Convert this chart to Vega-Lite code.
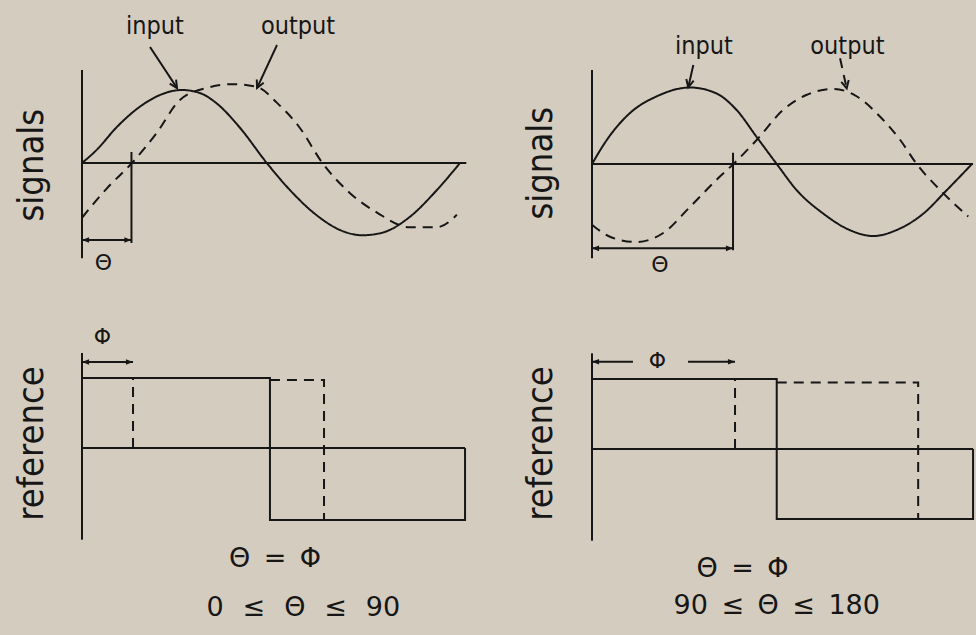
{
  "$schema": "https://vega.github.io/schema/vega-lite/v6.json",
  "background": "#d4ccbf",
  "padding": 0,
  "config": {"view": {"stroke": null}, "concat": {"spacing": 0}},
  "columns": 2,
  "spacing": 0,
  "datasets": {
    "curves": [
      {"panel": "sig1", "series": "input", "path": "sig1-in", "i": 0, "phase": 0, "value": 0},
      {"panel": "sig1", "series": "input", "path": "sig1-in", "i": 1, "phase": 14, "value": 0.18},
      {"panel": "sig1", "series": "input", "path": "sig1-in", "i": 2, "phase": 33, "value": 0.49},
      {"panel": "sig1", "series": "input", "path": "sig1-in", "i": 3, "phase": 55, "value": 0.77},
      {"panel": "sig1", "series": "input", "path": "sig1-in", "i": 4, "phase": 74, "value": 0.93},
      {"panel": "sig1", "series": "input", "path": "sig1-in", "i": 5, "phase": 95, "value": 1.0},
      {"panel": "sig1", "series": "input", "path": "sig1-in", "i": 6, "phase": 112, "value": 0.96},
      {"panel": "sig1", "series": "input", "path": "sig1-in", "i": 7, "phase": 128, "value": 0.82},
      {"panel": "sig1", "series": "input", "path": "sig1-in", "i": 8, "phase": 150, "value": 0.49},
      {"panel": "sig1", "series": "input", "path": "sig1-in", "i": 9, "phase": 176, "value": 0},
      {"panel": "sig1", "series": "input", "path": "sig1-in", "i": 10, "phase": 198, "value": -0.37},
      {"panel": "sig1", "series": "input", "path": "sig1-in", "i": 11, "phase": 223, "value": -0.71},
      {"panel": "sig1", "series": "input", "path": "sig1-in", "i": 12, "phase": 246, "value": -0.92},
      {"panel": "sig1", "series": "input", "path": "sig1-in", "i": 13, "phase": 267, "value": -0.99},
      {"panel": "sig1", "series": "input", "path": "sig1-in", "i": 14, "phase": 287, "value": -0.95},
      {"panel": "sig1", "series": "input", "path": "sig1-in", "i": 15, "phase": 312, "value": -0.74},
      {"panel": "sig1", "series": "input", "path": "sig1-in", "i": 16, "phase": 338, "value": -0.37},
      {"panel": "sig1", "series": "input", "path": "sig1-in", "i": 17, "phase": 360, "value": 0},

      {"panel": "sig1", "series": "output", "path": "sig1-out", "i": 0, "phase": 0, "value": -0.75},
      {"panel": "sig1", "series": "output", "path": "sig1-out", "i": 1, "phase": 23.5, "value": -0.35},
      {"panel": "sig1", "series": "output", "path": "sig1-out", "i": 2, "phase": 47.6, "value": 0},
      {"panel": "sig1", "series": "output", "path": "sig1-out", "i": 3, "phase": 71, "value": 0.41},
      {"panel": "sig1", "series": "output", "path": "sig1-out", "i": 4, "phase": 93, "value": 0.86},
      {"panel": "sig1", "series": "output", "path": "sig1-out", "i": 5, "phase": 119, "value": 1.03},
      {"panel": "sig1", "series": "output", "path": "sig1-out", "i": 6, "phase": 144, "value": 1.08},
      {"panel": "sig1", "series": "output", "path": "sig1-out", "i": 7, "phase": 167, "value": 1.04},
      {"panel": "sig1", "series": "output", "path": "sig1-out", "i": 8, "phase": 186, "value": 0.82},
      {"panel": "sig1", "series": "output", "path": "sig1-out", "i": 9, "phase": 207, "value": 0.49},
      {"panel": "sig1", "series": "output", "path": "sig1-out", "i": 10, "phase": 229, "value": 0},
      {"panel": "sig1", "series": "output", "path": "sig1-out", "i": 11, "phase": 255, "value": -0.41},
      {"panel": "sig1", "series": "output", "path": "sig1-out", "i": 12, "phase": 281, "value": -0.68},
      {"panel": "sig1", "series": "output", "path": "sig1-out", "i": 13, "phase": 312, "value": -0.88},
      {"panel": "sig1", "series": "output", "path": "sig1-out", "i": 14, "phase": 338, "value": -0.88},
      {"panel": "sig1", "series": "output", "path": "sig1-out", "i": 15, "phase": 357, "value": -0.71},

      {"panel": "sig2", "series": "input", "path": "sig2-in", "i": 0, "phase": 0, "value": 0},
      {"panel": "sig2", "series": "input", "path": "sig2-in", "i": 1, "phase": 14, "value": 0.32},
      {"panel": "sig2", "series": "input", "path": "sig2-in", "i": 2, "phase": 36, "value": 0.68},
      {"panel": "sig2", "series": "input", "path": "sig2-in", "i": 3, "phase": 61, "value": 0.9},
      {"panel": "sig2", "series": "input", "path": "sig2-in", "i": 4, "phase": 93, "value": 1.02},
      {"panel": "sig2", "series": "input", "path": "sig2-in", "i": 5, "phase": 118, "value": 0.94},
      {"panel": "sig2", "series": "input", "path": "sig2-in", "i": 6, "phase": 137, "value": 0.72},
      {"panel": "sig2", "series": "input", "path": "sig2-in", "i": 7, "phase": 156, "value": 0.36},
      {"panel": "sig2", "series": "input", "path": "sig2-in", "i": 8, "phase": 175, "value": 0},
      {"panel": "sig2", "series": "input", "path": "sig2-in", "i": 9, "phase": 194, "value": -0.35},
      {"panel": "sig2", "series": "input", "path": "sig2-in", "i": 10, "phase": 219, "value": -0.66},
      {"panel": "sig2", "series": "input", "path": "sig2-in", "i": 11, "phase": 244, "value": -0.88},
      {"panel": "sig2", "series": "input", "path": "sig2-in", "i": 12, "phase": 266.5, "value": -0.96},
      {"panel": "sig2", "series": "input", "path": "sig2-in", "i": 13, "phase": 288.6, "value": -0.88},
      {"panel": "sig2", "series": "input", "path": "sig2-in", "i": 14, "phase": 314, "value": -0.66},
      {"panel": "sig2", "series": "input", "path": "sig2-in", "i": 15, "phase": 336, "value": -0.35},
      {"panel": "sig2", "series": "input", "path": "sig2-in", "i": 16, "phase": 360, "value": 0},

      {"panel": "sig2", "series": "output", "path": "sig2-out", "i": 0, "phase": 0, "value": -0.81},
      {"panel": "sig2", "series": "output", "path": "sig2-out", "i": 1, "phase": 17, "value": -0.97},
      {"panel": "sig2", "series": "output", "path": "sig2-out", "i": 2, "phase": 42, "value": -1.04},
      {"panel": "sig2", "series": "output", "path": "sig2-out", "i": 3, "phase": 67.5, "value": -0.92},
      {"panel": "sig2", "series": "output", "path": "sig2-out", "i": 4, "phase": 93, "value": -0.57},
      {"panel": "sig2", "series": "output", "path": "sig2-out", "i": 5, "phase": 118, "value": -0.21},
      {"panel": "sig2", "series": "output", "path": "sig2-out", "i": 6, "phase": 134, "value": 0},
      {"panel": "sig2", "series": "output", "path": "sig2-out", "i": 7, "phase": 156, "value": 0.32},
      {"panel": "sig2", "series": "output", "path": "sig2-out", "i": 8, "phase": 181, "value": 0.72},
      {"panel": "sig2", "series": "output", "path": "sig2-out", "i": 9, "phase": 203, "value": 0.92},
      {"panel": "sig2", "series": "output", "path": "sig2-out", "i": 10, "phase": 229, "value": 1.0},
      {"panel": "sig2", "series": "output", "path": "sig2-out", "i": 11, "phase": 251, "value": 0.9},
      {"panel": "sig2", "series": "output", "path": "sig2-out", "i": 12, "phase": 273, "value": 0.63},
      {"panel": "sig2", "series": "output", "path": "sig2-out", "i": 13, "phase": 292, "value": 0.32},
      {"panel": "sig2", "series": "output", "path": "sig2-out", "i": 14, "phase": 307.6, "value": 0},
      {"panel": "sig2", "series": "output", "path": "sig2-out", "i": 15, "phase": 330, "value": -0.35},
      {"panel": "sig2", "series": "output", "path": "sig2-out", "i": 16, "phase": 356.5, "value": -0.7},

      {"panel": "ref1", "series": "reference", "path": "ref1-ref", "i": 0, "phase": 0, "value": 1},
      {"panel": "ref1", "series": "reference", "path": "ref1-ref", "i": 1, "phase": 179, "value": 1},
      {"panel": "ref1", "series": "reference", "path": "ref1-ref", "i": 2, "phase": 179, "value": -1.03},
      {"panel": "ref1", "series": "reference", "path": "ref1-ref", "i": 3, "phase": 364.8, "value": -1.03},
      {"panel": "ref1", "series": "reference", "path": "ref1-ref", "i": 4, "phase": 364.8, "value": 0},
      {"panel": "ref1", "series": "shifted", "path": "ref1-rise", "i": 0, "phase": 48.6, "value": 0},
      {"panel": "ref1", "series": "shifted", "path": "ref1-rise", "i": 1, "phase": 48.6, "value": 1},
      {"panel": "ref1", "series": "shifted", "path": "ref1-fall", "i": 0, "phase": 179, "value": 0.97},
      {"panel": "ref1", "series": "shifted", "path": "ref1-fall", "i": 1, "phase": 230.5, "value": 0.97},
      {"panel": "ref1", "series": "shifted", "path": "ref1-fall", "i": 2, "phase": 230.5, "value": -1.03},

      {"panel": "ref2", "series": "reference", "path": "ref2-ref", "i": 0, "phase": 0, "value": 1},
      {"panel": "ref2", "series": "reference", "path": "ref2-ref", "i": 1, "phase": 175, "value": 1},
      {"panel": "ref2", "series": "reference", "path": "ref2-ref", "i": 2, "phase": 175, "value": -1},
      {"panel": "ref2", "series": "reference", "path": "ref2-ref", "i": 3, "phase": 361, "value": -1},
      {"panel": "ref2", "series": "reference", "path": "ref2-ref", "i": 4, "phase": 361, "value": 0},
      {"panel": "ref2", "series": "shifted", "path": "ref2-rise", "i": 0, "phase": 135.5, "value": 0},
      {"panel": "ref2", "series": "shifted", "path": "ref2-rise", "i": 1, "phase": 135.5, "value": 1},
      {"panel": "ref2", "series": "shifted", "path": "ref2-fall", "i": 0, "phase": 175, "value": 0.95},
      {"panel": "ref2", "series": "shifted", "path": "ref2-fall", "i": 1, "phase": 309, "value": 0.95},
      {"panel": "ref2", "series": "shifted", "path": "ref2-fall", "i": 2, "phase": 309, "value": -1}
    ],
    "rules": [
      {"panel": "sig1", "role": "axis", "series": "guide", "phase": 0, "phase2": 0, "value": 1.274, "value2": -1.305},
      {"panel": "sig1", "role": "baseline", "series": "guide", "phase": 0, "phase2": 366, "value": 0, "value2": 0},
      {"panel": "sig1", "role": "lag", "series": "guide", "phase": 47.1, "phase2": 47.1, "value": 0.15, "value2": -1.096},
      {"panel": "sig1", "role": "dimension", "series": "guide", "phase": 0, "phase2": 47.1, "value": -1.055, "value2": -1.055},
      {"panel": "sig1", "role": "callout", "series": "guide", "phase": 64.8, "phase2": 90.5, "value": 1.589, "value2": 1.027},
      {"panel": "sig1", "role": "callout", "series": "guide", "phase": 185.7, "phase2": 166.7, "value": 1.616, "value2": 1.027},
      {"panel": "sig2", "role": "axis", "series": "guide", "phase": 0, "phase2": 0, "value": 1.253, "value2": -1.257},
      {"panel": "sig2", "role": "baseline", "series": "guide", "phase": 0, "phase2": 361, "value": 0, "value2": 0},
      {"panel": "sig2", "role": "lag", "series": "guide", "phase": 133.6, "phase2": 133.6, "value": 0.15, "value2": -1.15},
      {"panel": "sig2", "role": "dimension", "series": "guide", "phase": 0, "phase2": 133.6, "value": -1.124, "value2": -1.124},
      {"panel": "sig2", "role": "callout", "series": "guide", "phase": 96, "phase2": 91.2, "value": 1.32, "value2": 1.023},
      {"panel": "sig2", "role": "callout", "series": "output", "phase": 235, "phase2": 241.3, "value": 1.409, "value2": 1.009},
      {"panel": "ref1", "role": "axis", "series": "guide", "phase": 0, "phase2": 0, "value": 1.357, "value2": -1.31},
      {"panel": "ref1", "role": "baseline", "series": "guide", "phase": 0, "phase2": 364.8, "value": 0, "value2": 0},
      {"panel": "ref1", "role": "dimension", "series": "guide", "phase": 0, "phase2": 48.6, "value": 1.229, "value2": 1.229},
      {"panel": "ref2", "role": "axis", "series": "guide", "phase": 0, "phase2": 0, "value": 1.367, "value2": -1.31},
      {"panel": "ref2", "role": "baseline", "series": "guide", "phase": 0, "phase2": 361, "value": 0, "value2": 0},
      {"panel": "ref2", "role": "dimension", "series": "guide", "phase": 0, "phase2": 38.8, "value": 1.247, "value2": 1.247},
      {"panel": "ref2", "role": "dimension", "series": "guide", "phase": 91, "phase2": 135.5, "value": 1.247, "value2": 1.247}
    ],
    "heads": [
      {"panel": "sig1", "end": "start", "phase": 0, "value": -1.055},
      {"panel": "sig1", "end": "end", "phase": 47.1, "value": -1.055},
      {"panel": "sig2", "end": "start", "phase": 0, "value": -1.124},
      {"panel": "sig2", "end": "end", "phase": 133.6, "value": -1.124},
      {"panel": "ref1", "end": "start", "phase": 0, "value": 1.229},
      {"panel": "ref1", "end": "end", "phase": 48.6, "value": 1.229},
      {"panel": "ref2", "end": "start", "phase": 0, "value": 1.247},
      {"panel": "ref2", "end": "end", "phase": 135.5, "value": 1.247}
    ],
    "pointers": [
      {"panel": "sig1", "label": "input", "phase": 90.5, "value": 1.027},
      {"panel": "sig1", "label": "output", "phase": 166.7, "value": 1.027},
      {"panel": "sig2", "label": "input", "phase": 91.2, "value": 1.023},
      {"panel": "sig2", "label": "output", "phase": 241.3, "value": 1.009}
    ],
    "labels": [
      {"panel": "sig1", "role": "title", "text": "signals", "phase": -47.6, "value": -0.03},
      {"panel": "sig1", "role": "callout", "text": "input", "phase": 69.5, "value": 1.873},
      {"panel": "sig1", "role": "callout", "text": "output", "phase": 205.7, "value": 1.873},
      {"panel": "sig1", "role": "symbol", "text": "Θ", "phase": 20.5, "value": -1.363},
      {"panel": "sig2", "role": "title", "text": "signals", "phase": -48.3, "value": 0.01},
      {"panel": "sig2", "role": "callout", "text": "input", "phase": 106.1, "value": 1.576},
      {"panel": "sig2", "role": "callout", "text": "output", "phase": 242, "value": 1.576},
      {"panel": "sig2", "role": "symbol", "text": "Θ", "phase": 64.4, "value": -1.347},
      {"panel": "ref1", "role": "title", "text": "reference", "phase": -47.6, "value": 0.064},
      {"panel": "ref1", "role": "symbol", "text": "Φ", "phase": 19.5, "value": 1.579},
      {"panel": "ref1", "role": "condition", "text": "Θ\u2002=\u2002Φ", "phase": 183.8, "value": -1.586},
      {"panel": "ref1", "role": "condition", "text": "0\u2002\u2009≤\u2002\u2009Θ\u2002\u2009≤\u2002\u200990", "phase": 210.8, "value": -2.279},
      {"panel": "ref2", "role": "title", "text": "reference", "phase": -48.3, "value": 0.079},
      {"panel": "ref2", "role": "symbol", "text": "Φ", "phase": 62, "value": 1.257},
      {"panel": "ref2", "role": "condition", "text": "Θ\u2002=\u2002Φ", "phase": 142.6, "value": -1.714},
      {"panel": "ref2", "role": "condition", "text": "90\u2002≤\u2002Θ\u2002≤\u2002180", "phase": 175, "value": -2.239}
    ]
  },
  "concat": [
    {
      "width": 488,
      "height": 300,
      "encoding": {
        "x": {"field": "phase", "type": "quantitative", "scale": {"domain": [-78.095, 386.667], "nice": false, "zero": false}, "axis": null},
        "y": {"field": "value", "type": "quantitative", "scale": {"domain": [-1.8767, 2.2329], "nice": false, "zero": false}, "axis": null}
      },
      "layer": [
        {
          "data": {"name": "rules"},
          "transform": [{"filter": "datum.panel === 'sig1'"}],
          "mark": {"type": "rule", "strokeWidth": 2, "color": "#161616"},
          "encoding": {
            "x2": {"field": "phase2"},
            "y2": {"field": "value2"},
            "strokeDash": {"field": "series", "type": "nominal", "scale": {"domain": ["input", "reference", "guide", "output", "shifted"], "range": [[1, 0], [1, 0], [1, 0], [10, 7], [10, 7]]}, "legend": null}
          }
        },
        {
          "data": {"name": "curves"},
          "transform": [{"filter": "datum.panel === 'sig1'"}],
          "mark": {"type": "line", "interpolate": "monotone", "strokeWidth": 2, "color": "#161616"},
          "encoding": {
            "detail": {"field": "path", "type": "nominal"},
            "order": {"field": "i", "type": "quantitative"},
            "strokeDash": {"field": "series", "type": "nominal", "scale": {"domain": ["input", "reference", "guide", "output", "shifted"], "range": [[1, 0], [1, 0], [1, 0], [10, 7], [10, 7]]}, "legend": null}
          }
        },
        {
          "data": {"name": "heads"},
          "transform": [{"filter": "datum.panel === 'sig1'"}],
          "mark": {"type": "point", "filled": true, "opacity": 1, "size": 50, "color": "#161616"},
          "encoding": {
            "shape": {"field": "end", "type": "nominal", "scale": {"domain": ["start", "end"], "range": ["M0,0L2,-0.8L2,0.8Z", "M0,0L-2,-0.8L-2,0.8Z"]}, "legend": null}
          }
        },
        {
          "data": {"name": "pointers"},
          "transform": [{"filter": "datum.panel === 'sig1' && datum.label === 'input'"}],
          "mark": {"type": "point", "shape": "M-0.8,-1.6L0,0L0.8,-1.6", "filled": false, "opacity": 1, "size": 90, "strokeWidth": 2, "angle": -33, "color": "#161616"}
        },
        {
          "data": {"name": "pointers"},
          "transform": [{"filter": "datum.panel === 'sig1' && datum.label === 'output'"}],
          "mark": {"type": "point", "shape": "M-0.8,-1.6L0,0L0.8,-1.6", "filled": false, "opacity": 1, "size": 90, "strokeWidth": 2, "angle": 25, "color": "#161616"}
        },
        {
          "data": {"name": "labels"},
          "transform": [{"filter": "datum.panel === 'sig1' && datum.role === 'title'"}],
          "mark": {"type": "text", "font": "DejaVu Sans Condensed, DejaVu Sans", "fontSize": 36, "angle": 270, "align": "center", "baseline": "middle", "color": "#161616"},
          "encoding": {"text": {"field": "text"}}
        },
        {
          "data": {"name": "labels"},
          "transform": [{"filter": "datum.panel === 'sig1' && datum.role === 'callout'"}],
          "mark": {"type": "text", "font": "DejaVu Sans Condensed, DejaVu Sans", "fontSize": 25, "align": "center", "baseline": "middle", "color": "#161616"},
          "encoding": {"text": {"field": "text"}}
        },
        {
          "data": {"name": "labels"},
          "transform": [{"filter": "datum.panel === 'sig1' && datum.role === 'symbol'"}],
          "mark": {"type": "text", "font": "DejaVu Sans", "fontSize": 22, "align": "center", "baseline": "middle", "color": "#161616"},
          "encoding": {"text": {"field": "text"}}
        }
      ]
    },
    {
      "width": 488,
      "height": 300,
      "encoding": {
        "x": {"field": "phase", "type": "quantitative", "scale": {"domain": [-98.526, 363.79], "nice": false, "zero": false}, "axis": null},
        "y": {"field": "value", "type": "quantitative", "scale": {"domain": [-1.8133, 2.1867], "nice": false, "zero": false}, "axis": null}
      },
      "layer": [
        {
          "data": {"name": "rules"},
          "transform": [{"filter": "datum.panel === 'sig2'"}],
          "mark": {"type": "rule", "strokeWidth": 2, "color": "#161616"},
          "encoding": {
            "x2": {"field": "phase2"},
            "y2": {"field": "value2"},
            "strokeDash": {"field": "series", "type": "nominal", "scale": {"domain": ["input", "reference", "guide", "output", "shifted"], "range": [[1, 0], [1, 0], [1, 0], [7, 6], [10, 7]]}, "legend": null}
          }
        },
        {
          "data": {"name": "curves"},
          "transform": [{"filter": "datum.panel === 'sig2'"}],
          "mark": {"type": "line", "interpolate": "monotone", "strokeWidth": 2, "color": "#161616"},
          "encoding": {
            "detail": {"field": "path", "type": "nominal"},
            "order": {"field": "i", "type": "quantitative"},
            "strokeDash": {"field": "series", "type": "nominal", "scale": {"domain": ["input", "reference", "guide", "output", "shifted"], "range": [[1, 0], [1, 0], [1, 0], [10, 7], [10, 7]]}, "legend": null}
          }
        },
        {
          "data": {"name": "heads"},
          "transform": [{"filter": "datum.panel === 'sig2'"}],
          "mark": {"type": "point", "filled": true, "opacity": 1, "size": 50, "color": "#161616"},
          "encoding": {
            "shape": {"field": "end", "type": "nominal", "scale": {"domain": ["start", "end"], "range": ["M0,0L2,-0.8L2,0.8Z", "M0,0L-2,-0.8L-2,0.8Z"]}, "legend": null}
          }
        },
        {
          "data": {"name": "pointers"},
          "transform": [{"filter": "datum.panel === 'sig2' && datum.label === 'input'"}],
          "mark": {"type": "point", "shape": "M-0.8,-1.6L0,0L0.8,-1.6", "filled": false, "opacity": 1, "size": 90, "strokeWidth": 2, "angle": 13, "color": "#161616"}
        },
        {
          "data": {"name": "pointers"},
          "transform": [{"filter": "datum.panel === 'sig2' && datum.label === 'output'"}],
          "mark": {"type": "point", "shape": "M-0.8,-1.6L0,0L0.8,-1.6", "filled": false, "opacity": 1, "size": 90, "strokeWidth": 2, "angle": -13, "color": "#161616"}
        },
        {
          "data": {"name": "labels"},
          "transform": [{"filter": "datum.panel === 'sig2' && datum.role === 'title'"}],
          "mark": {"type": "text", "font": "DejaVu Sans Condensed, DejaVu Sans", "fontSize": 36, "angle": 270, "align": "center", "baseline": "middle", "color": "#161616"},
          "encoding": {"text": {"field": "text"}}
        },
        {
          "data": {"name": "labels"},
          "transform": [{"filter": "datum.panel === 'sig2' && datum.role === 'callout'"}],
          "mark": {"type": "text", "font": "DejaVu Sans Condensed, DejaVu Sans", "fontSize": 25, "align": "center", "baseline": "middle", "color": "#161616"},
          "encoding": {"text": {"field": "text"}}
        },
        {
          "data": {"name": "labels"},
          "transform": [{"filter": "datum.panel === 'sig2' && datum.role === 'symbol'"}],
          "mark": {"type": "text", "font": "DejaVu Sans", "fontSize": 22, "align": "center", "baseline": "middle", "color": "#161616"},
          "encoding": {"text": {"field": "text"}}
        }
      ]
    },
    {
      "width": 488,
      "height": 335,
      "encoding": {
        "x": {"field": "phase", "type": "quantitative", "scale": {"domain": [-78.095, 386.667], "nice": false, "zero": false}, "axis": null},
        "y": {"field": "value", "type": "quantitative", "scale": {"domain": [-2.6714, 2.1143], "nice": false, "zero": false}, "axis": null}
      },
      "layer": [
        {
          "data": {"name": "rules"},
          "transform": [{"filter": "datum.panel === 'ref1'"}],
          "mark": {"type": "rule", "strokeWidth": 2, "color": "#161616"},
          "encoding": {
            "x2": {"field": "phase2"},
            "y2": {"field": "value2"}
          }
        },
        {
          "data": {"name": "curves"},
          "transform": [{"filter": "datum.panel === 'ref1'"}],
          "mark": {"type": "line", "interpolate": "linear", "strokeWidth": 2, "color": "#161616"},
          "encoding": {
            "detail": {"field": "path", "type": "nominal"},
            "order": {"field": "i", "type": "quantitative"},
            "strokeDash": {"field": "series", "type": "nominal", "scale": {"domain": ["input", "reference", "guide", "output", "shifted"], "range": [[1, 0], [1, 0], [1, 0], [10, 7], [10, 7]]}, "legend": null}
          }
        },
        {
          "data": {"name": "heads"},
          "transform": [{"filter": "datum.panel === 'ref1'"}],
          "mark": {"type": "point", "filled": true, "opacity": 1, "size": 50, "color": "#161616"},
          "encoding": {
            "shape": {"field": "end", "type": "nominal", "scale": {"domain": ["start", "end"], "range": ["M0,0L2,-0.8L2,0.8Z", "M0,0L-2,-0.8L-2,0.8Z"]}, "legend": null}
          }
        },
        {
          "data": {"name": "labels"},
          "transform": [{"filter": "datum.panel === 'ref1' && datum.role === 'title'"}],
          "mark": {"type": "text", "font": "DejaVu Sans Condensed, DejaVu Sans", "fontSize": 36, "angle": 270, "align": "center", "baseline": "middle", "color": "#161616"},
          "encoding": {"text": {"field": "text"}}
        },
        {
          "data": {"name": "labels"},
          "transform": [{"filter": "datum.panel === 'ref1' && datum.role === 'symbol'"}],
          "mark": {"type": "text", "font": "DejaVu Sans", "fontSize": 22, "align": "center", "baseline": "middle", "color": "#161616"},
          "encoding": {"text": {"field": "text"}}
        },
        {
          "data": {"name": "labels"},
          "transform": [{"filter": "datum.panel === 'ref1' && datum.role === 'condition'"}],
          "mark": {"type": "text", "font": "DejaVu Sans", "fontSize": 27, "align": "center", "baseline": "middle", "color": "#161616"},
          "encoding": {"text": {"field": "text"}}
        }
      ]
    },
    {
      "width": 488,
      "height": 335,
      "encoding": {
        "x": {"field": "phase", "type": "quantitative", "scale": {"domain": [-98.526, 363.79], "nice": false, "zero": false}, "axis": null},
        "y": {"field": "value", "type": "quantitative", "scale": {"domain": [-2.6571, 2.1286], "nice": false, "zero": false}, "axis": null}
      },
      "layer": [
        {
          "data": {"name": "rules"},
          "transform": [{"filter": "datum.panel === 'ref2'"}],
          "mark": {"type": "rule", "strokeWidth": 2, "color": "#161616"},
          "encoding": {
            "x2": {"field": "phase2"},
            "y2": {"field": "value2"}
          }
        },
        {
          "data": {"name": "curves"},
          "transform": [{"filter": "datum.panel === 'ref2'"}],
          "mark": {"type": "line", "interpolate": "linear", "strokeWidth": 2, "color": "#161616"},
          "encoding": {
            "detail": {"field": "path", "type": "nominal"},
            "order": {"field": "i", "type": "quantitative"},
            "strokeDash": {"field": "series", "type": "nominal", "scale": {"domain": ["input", "reference", "guide", "output", "shifted"], "range": [[1, 0], [1, 0], [1, 0], [10, 7], [10, 7]]}, "legend": null}
          }
        },
        {
          "data": {"name": "heads"},
          "transform": [{"filter": "datum.panel === 'ref2'"}],
          "mark": {"type": "point", "filled": true, "opacity": 1, "size": 50, "color": "#161616"},
          "encoding": {
            "shape": {"field": "end", "type": "nominal", "scale": {"domain": ["start", "end"], "range": ["M0,0L2,-0.8L2,0.8Z", "M0,0L-2,-0.8L-2,0.8Z"]}, "legend": null}
          }
        },
        {
          "data": {"name": "labels"},
          "transform": [{"filter": "datum.panel === 'ref2' && datum.role === 'title'"}],
          "mark": {"type": "text", "font": "DejaVu Sans Condensed, DejaVu Sans", "fontSize": 36, "angle": 270, "align": "center", "baseline": "middle", "color": "#161616"},
          "encoding": {"text": {"field": "text"}}
        },
        {
          "data": {"name": "labels"},
          "transform": [{"filter": "datum.panel === 'ref2' && datum.role === 'symbol'"}],
          "mark": {"type": "text", "font": "DejaVu Sans", "fontSize": 22, "align": "center", "baseline": "middle", "color": "#161616"},
          "encoding": {"text": {"field": "text"}}
        },
        {
          "data": {"name": "labels"},
          "transform": [{"filter": "datum.panel === 'ref2' && datum.role === 'condition'"}],
          "mark": {"type": "text", "font": "DejaVu Sans", "fontSize": 27, "align": "center", "baseline": "middle", "color": "#161616"},
          "encoding": {"text": {"field": "text"}}
        }
      ]
    }
  ]
}
